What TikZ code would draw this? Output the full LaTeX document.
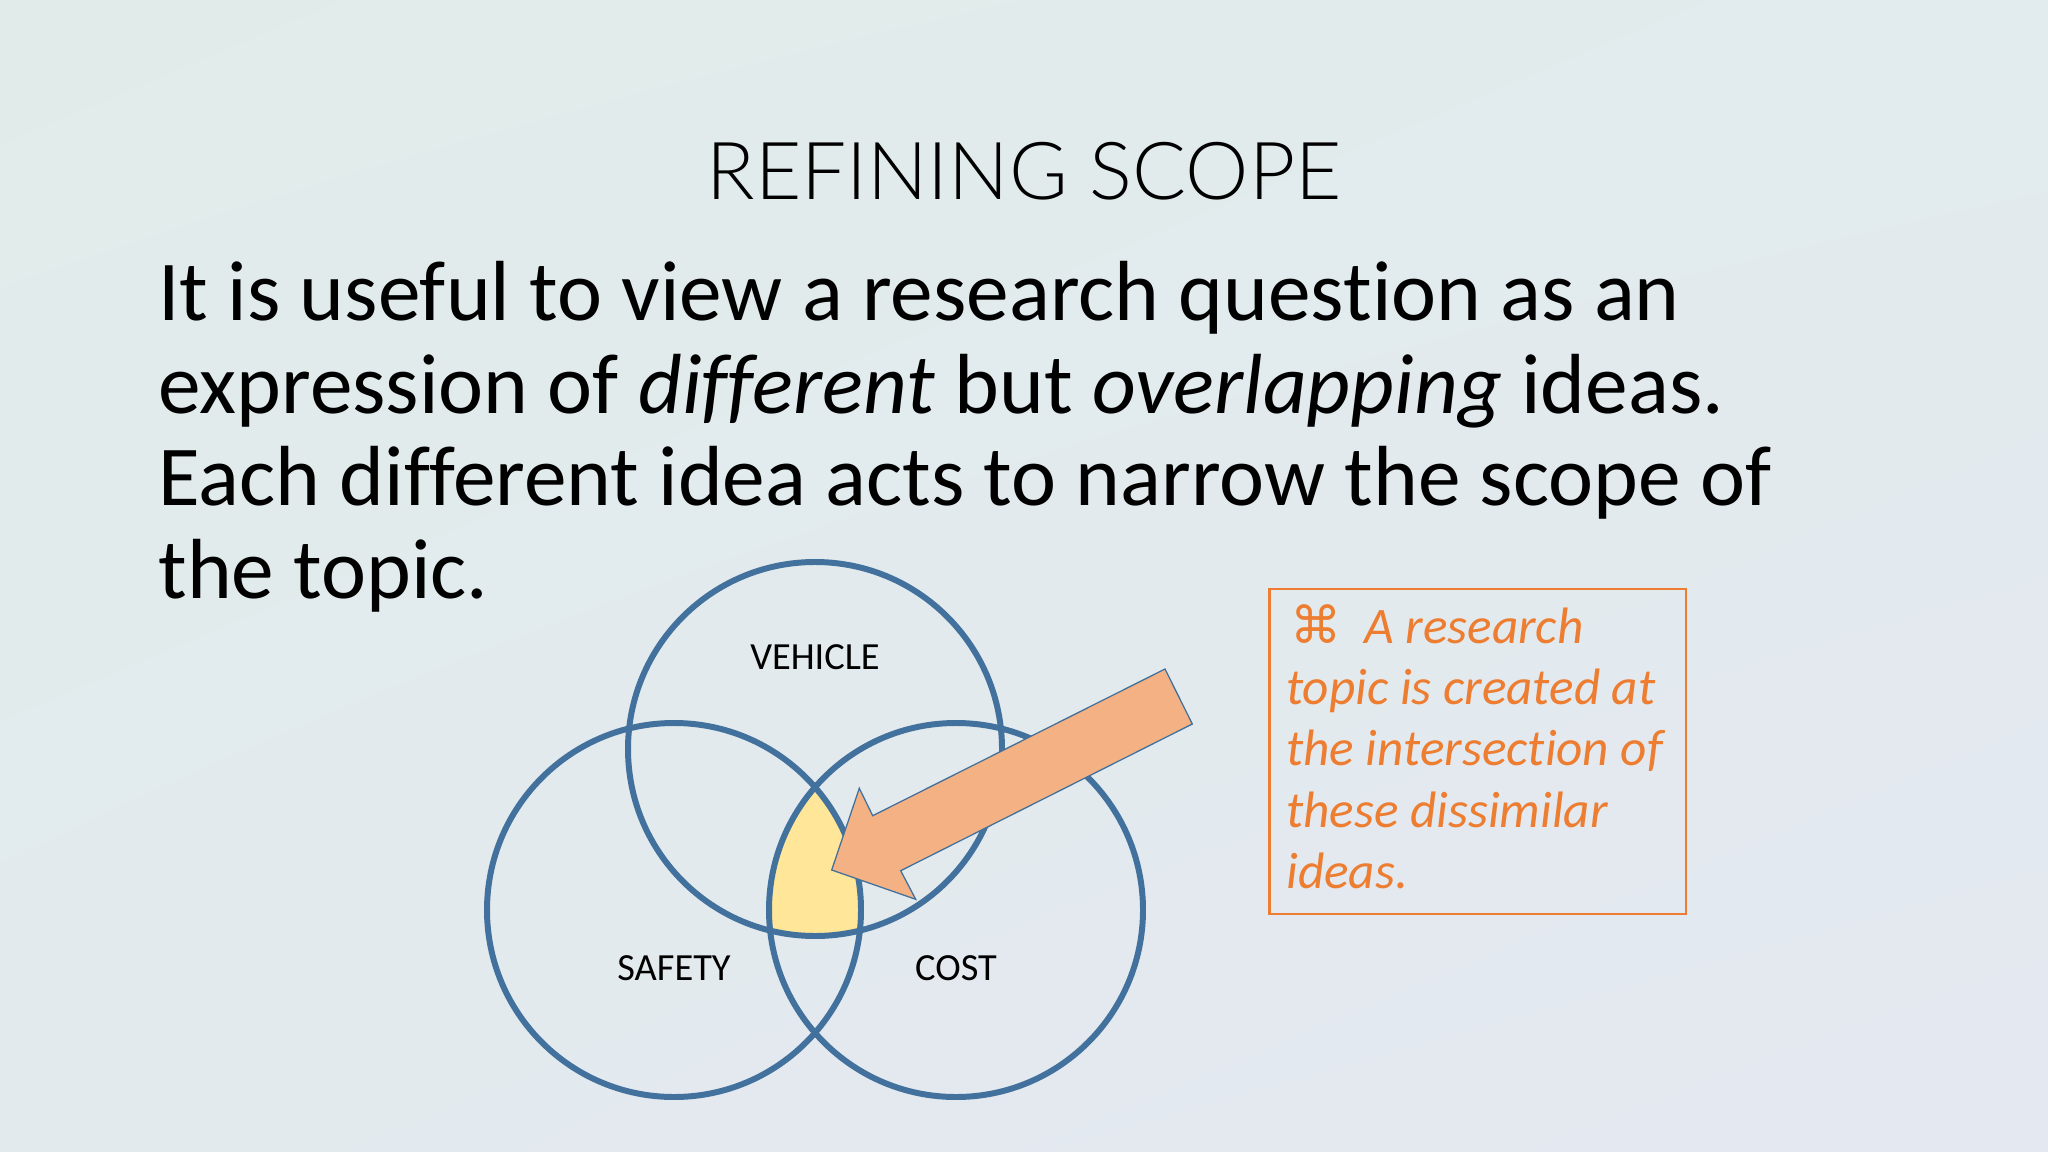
\documentclass[tikz,border=0pt]{standalone}
\usepackage{fontspec}
\setmainfont{Carlito}[Ligatures={NoCommon}]
\newfontfamily\titlefont{Lato Light}
\newfontfamily\symfont{DejaVu Sans}
\usetikzlibrary{calc,shadings}
\definecolor{bgTL}{HTML}{E1ECEA}
\definecolor{bgTR}{HTML}{E2EBED}
\definecolor{bgBL}{HTML}{E3EAEE}
\definecolor{bgBR}{HTML}{E4E8F1}
\definecolor{vennblue}{HTML}{41719C}
\definecolor{topicyellow}{HTML}{FFE699}
\definecolor{arrowfill}{HTML}{F4B183}
\definecolor{noteorange}{HTML}{ED7D31}
\tikzset{
  venn/.style={draw=vennblue, line width=2.8pt},
  vennlabel/.style={font=\fontsize{18}{22}\selectfont, text=black, inner sep=0pt},
  bodyline/.style={anchor=base west, inner sep=0pt, font=\fontsize{40}{44}\selectfont, text=black},
  noteline/.style={anchor=base west, inner sep=0pt, font=\fontsize{24}{29}\selectfont\itshape, text=noteorange},
  notebox/.style={draw=noteorange, line width=1.3pt},
  bigarrow/.style={fill=arrowfill, draw=vennblue, line width=0.6pt, line join=miter}
}
\begin{document}
\begin{tikzpicture}[x=0.46875pt, y=-0.46875pt]
\useasboundingbox (0,0) rectangle (2048,1152);
\shade[upper left=bgTL, upper right=bgTR, lower left=bgBL, lower right=bgBR] (0,0) rectangle (2048,1152);

% title
\node[anchor=base, inner sep=0pt, font=\fontsize{37.5}{42}\selectfont\titlefont, text=black] (title) at (1024,200) {REFINING SCOPE};

% body
\node[bodyline] (l1) at (158,321) {It is useful to view a research question as an};
\node[bodyline] (l2) at (158,413.3) {expression of \textit{different} but \textit{overlapping} ideas.};
\node[bodyline] (l3) at (158,505.6) {Each different idea acts to narrow the scope of};
\node[bodyline] (l4) at (158,598) {the topic.};

% venn
\coordinate (cv) at (815,749);
\coordinate (cs) at (674,910);
\coordinate (cc) at (956,910);
\begin{scope}
  \clip (cv) circle[radius=187];
  \clip (cs) circle[radius=187];
  \fill[topicyellow] (cc) circle[radius=187];
\end{scope}
\draw[venn] (cv) circle[radius=187];
\draw[venn] (cs) circle[radius=187];
\draw[venn] (cc) circle[radius=187];
\node[vennlabel] (vehicle) at (815,657) {VEHICLE};
\node[vennlabel] (safety) at (674,968) {SAFETY};
\node[vennlabel] (cost) at (956,968) {COST};

% arrow
\draw[bigarrow] (831.7,870) -- (859.3,788.3) -- (872.7,815.7) -- (1165,669)
  -- (1192.3,724) -- (900.7,870.7) -- (915.7,899.3) -- cycle;

% note box
\draw[notebox] (1269.5,589) rectangle (1686,914);
\node[noteline, font=\fontsize{24}{29}\selectfont\symfont] (cmd) at (1290,643) {⌘};
\node[noteline] (n1) at (1364,643) {A research};
\node[noteline] (n2) at (1286,704.4) {topic is created at};
\node[noteline] (n3) at (1286,765.8) {the intersection of};
\node[noteline] (n4) at (1286,827.2) {these dissimilar};
\node[noteline] (n5) at (1286,888.6) {ideas.};
\end{tikzpicture}
\end{document}
